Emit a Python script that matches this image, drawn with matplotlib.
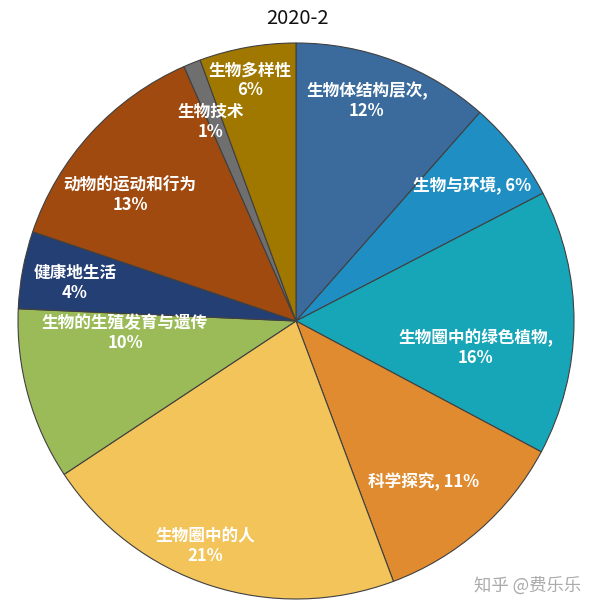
import matplotlib
matplotlib.use("Agg")
import matplotlib.pyplot as plt
import numpy as np

plt.rcParams['font.family'] = ['Noto Sans CJK SC', 'DejaVu Sans']

categories = ["生物体结构层次", "生物与环境", "生物圈中的绿色植物", "科学探究", "生物圈中的人",
              "生物的生殖发育与遗传", "健康地生活", "动物的运动和行为", "生物技术", "生物多样性"]
# wedge sizes (percent)
shares = [11.5, 5.9, 15.4, 11.5, 21.4, 10.0, 4.5, 13.2, 1.0, 5.6]
# percentages printed on the labels
pct_labels = [12, 6, 16, 11, 21, 10, 4, 13, 1, 6]
label_fmt = ["{c},\n{v}%", "{c}, {v}%", "{c},\n{v}%", "{c}, {v}%", "{c}\n{v}%",
             "{c}\n{v}%", "{c}\n{v}%", "{c}\n{v}%", "{c}\n{v}%", "{c}\n{v}%"]
colors = ["#3a6b9c", "#1f8ec2", "#17a5b8", "#e08b30", "#f2c45a",
          "#9bbb59", "#243f74", "#a04a10", "#6f6f6f", "#a07800"]
# label anchor (x, y) in pie-radius units
label_pos = [(0.255, 0.791), (0.633, 0.486), (0.647, -0.097), (0.46, -0.579), (-0.327, -0.809),
             (-0.615, -0.043), (-0.795, 0.137), (-0.597, 0.453), (-0.306, 0.716), (-0.165, 0.867)]

fig = plt.figure(figsize=(6.0, 6.1), dpi=100)
ax = fig.add_axes([18/600, 11/610, 556/600, 556/610])
wedges, _ = ax.pie(shares, colors=colors, startangle=90, counterclock=False,
                   radius=1.0, wedgeprops=dict(edgecolor="#404040", linewidth=0.8))
ax.set_xlim(-1.0, 1.0)
ax.set_ylim(-1.0, 1.0)
ax.set_aspect('equal')
ax.axis('off')

for c, v, f, (x, y) in zip(categories, pct_labels, label_fmt, label_pos):
    ax.text(x, y, f.format(c=c, v=v), ha='center', va='center', color='white',
            fontsize=12, fontweight='bold', linespacing=1.1)

fig.text(297/600, 1 - 18/610, "2020-2", ha='center', va='center', fontsize=14.5, color='#111111')
fig.text(528/600, 1 - 586/610, "知乎 @费乐乐", ha='center', va='center', fontsize=12.5, color='#aaaaaa')

fig.savefig("out.png", dpi=100)
